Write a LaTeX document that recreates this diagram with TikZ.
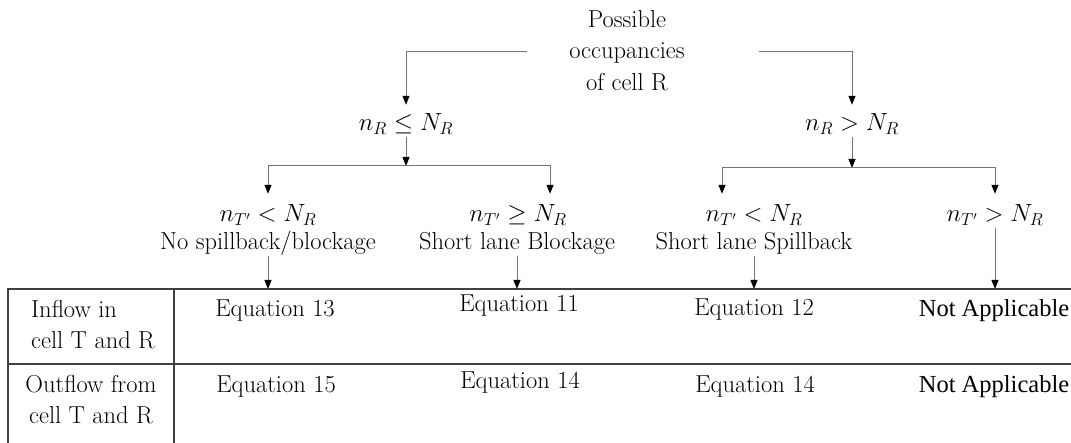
\documentclass[tikz,border=0pt]{standalone}
\usepackage{fontspec}
\usetikzlibrary{arrows.meta}
\newfontfamily\tnrfont{Liberation Serif}

\begin{document}
\begin{tikzpicture}[x=1pt, y=-1pt]
\tikzstyle{every node} = [font=\fontsize{24.5}{31.5}\selectfont, inner sep=0pt]
\tikzstyle{arr} = [draw=black!55, line width=1pt, -{Triangle[length=9pt, width=7pt, color=black]}]
\tikzstyle{grid} = [draw=black!75, line width=1.8pt]
\tikzstyle{cond} = [anchor=base, text height=28pt, text depth=6pt]
\tikzstyle{lbl} = [anchor=base, text height=17pt, text depth=6pt]
\tikzstyle{na} = [anchor=base, font=\fontsize{24.5}{30}\tnrfont]
\clip (0,0) rectangle (1071,443);

% decision tree
\node[align=center] (occ) at (627,50.5) {Possible\\occupancies\\of cell R};
\coordinate (occl) at (527,52);
\coordinate (occr) at (759,52);
\node[cond, text height=26pt] (le) at (406,131) {$n_R \leq N_R$};
\node[cond, text height=26pt] (gt) at (852,131) {$n_R > N_R$};
\coordinate (lbar) at (406,166);
\coordinate (rbar) at (852,168);
\node[cond] (c1) at (268,222) {$n_{T'} < N_R$};
\node[cond] (c2) at (518,222) {$n_{T'} \geq N_R$};
\node[cond] (c3) at (754,222) {$n_{T'} < N_R$};
\node[cond] (c4) at (995,222) {$n_{T'} > N_R$};
\node[lbl] (l1) at (268,250) {No spillback/blockage};
\node[lbl] (l2) at (517,250) {Short lane Blockage};
\node[lbl] (l3) at (754,250) {Short lane Spillback};

\draw[arr] (occl) -| (le);
\draw[arr] (occr) -| (gt);
\draw[arr] (le) -- (lbar);
\draw[arr] (gt) -- (rbar);
\draw[arr] (lbar) -| (c1);
\draw[arr] (lbar) -| ([xshift=32pt]c2.north);
\draw[arr] (rbar) -| ([xshift=-32pt]c3.north);
\draw[arr] (rbar) -| (c4);

% table
\coordinate (tabtop) at (8,289);
\draw[grid] (1080,289) -- (tabtop) -- (8,450);
\draw[grid] (174,289) -- (174,450);
\draw[grid] (8,364) -- (1080,364);
\foreach \from in {l1, l2, l3, c4}
\draw[arr] (\from) -- (\from |- tabtop);

\node[anchor=north west, align=left] (inflow) at (31,300) {Inflow in\\cell T and R};
\node[anchor=north, align=center] (outflow) at (91,375) {Outflow from\\cell T and R};
\node[anchor=base] (e13) at (275,317) {Equation 13};
\node[anchor=base] (e11) at (519,312) {Equation 11};
\node[anchor=base] (e12) at (754,316) {Equation 12};
\node[na] (na1) at (994,317) {Not Applicable};
\node[anchor=base] (e15) at (276,393) {Equation 15};
\node[anchor=base] (e14a) at (520,389) {Equation 14};
\node[anchor=base] (e14b) at (755,392) {Equation 14};
\node[na] (na2) at (994,393) {Not Applicable};
\end{tikzpicture}
\end{document}
